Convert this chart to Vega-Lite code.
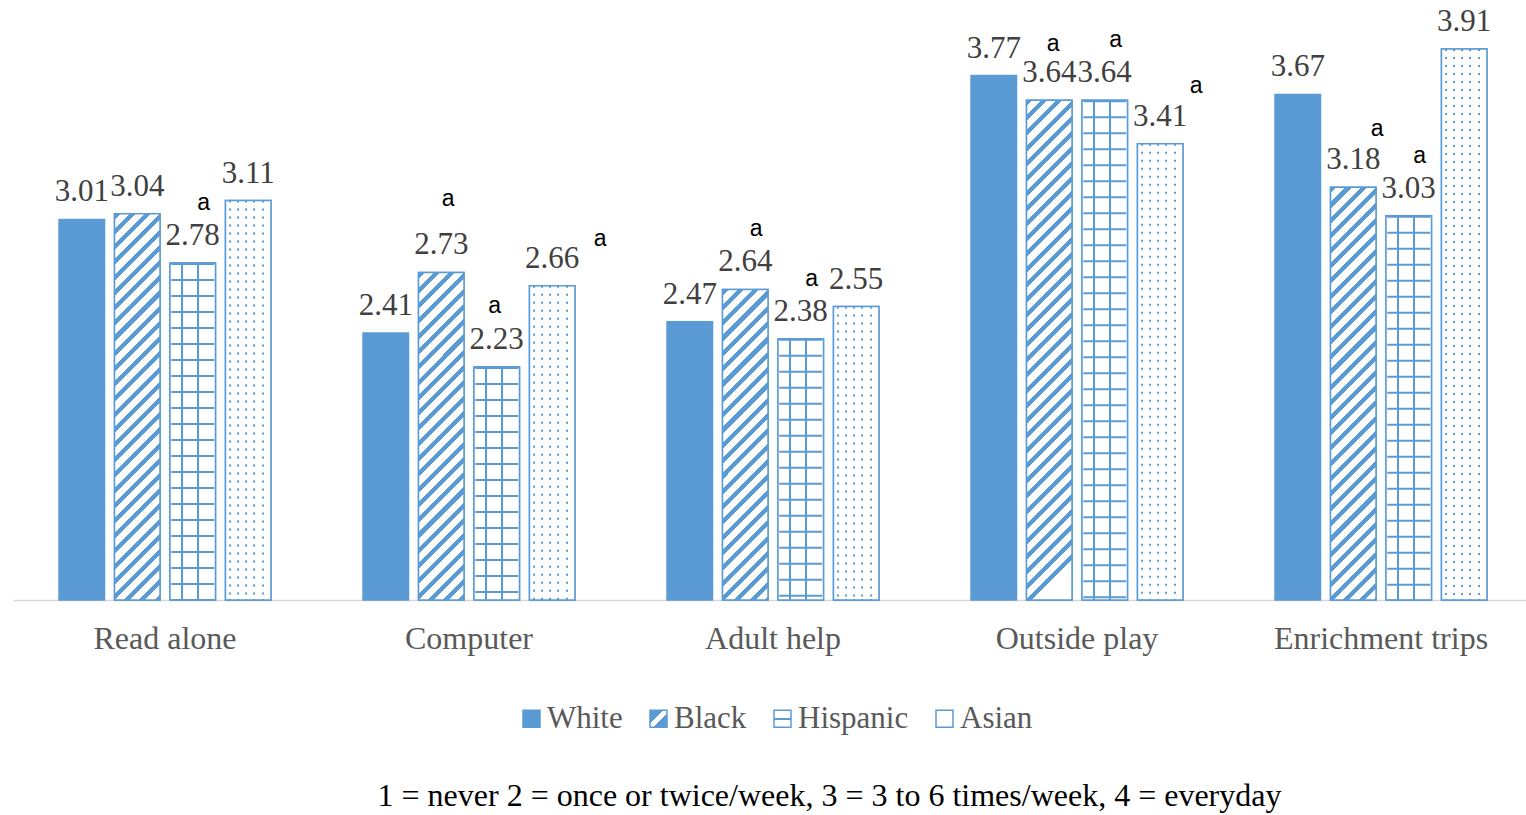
{
  "$schema": "https://vega.github.io/schema/vega-lite/v6.json",
  "autosize": {"type": "none"},
  "width": 1513,
  "height": 568,
  "padding": {"left": 13, "top": 32, "right": 0, "bottom": 215},
  "background": "#ffffff",
  "title": {
    "text": "1 = never 2 = once or twice/week, 3 = 3 to 6 times/week, 4 = everyday",
    "orient": "bottom",
    "anchor": "middle",
    "font": "Liberation Serif",
    "fontSize": 32,
    "fontWeight": "normal",
    "color": "#000000",
    "offset": 47,
    "dx": 60
  },
  "data": {
    "values": [
      {"cat": "Read alone", "grp": "White", "val": 3.01, "sig": ""},
      {"cat": "Read alone", "grp": "Black", "val": 3.04, "sig": ""},
      {"cat": "Read alone", "grp": "Hispanic", "val": 2.78, "sig": "a"},
      {"cat": "Read alone", "grp": "Asian", "val": 3.11, "sig": ""},
      {"cat": "Computer", "grp": "White", "val": 2.41, "sig": ""},
      {"cat": "Computer", "grp": "Black", "val": 2.73, "sig": "a"},
      {"cat": "Computer", "grp": "Hispanic", "val": 2.23, "sig": "a"},
      {"cat": "Computer", "grp": "Asian", "val": 2.66, "sig": "a"},
      {"cat": "Adult help", "grp": "White", "val": 2.47, "sig": ""},
      {"cat": "Adult help", "grp": "Black", "val": 2.64, "sig": "a"},
      {"cat": "Adult help", "grp": "Hispanic", "val": 2.38, "sig": "a"},
      {"cat": "Adult help", "grp": "Asian", "val": 2.55, "sig": ""},
      {"cat": "Outside play", "grp": "White", "val": 3.77, "sig": ""},
      {"cat": "Outside play", "grp": "Black", "val": 3.64, "sig": "a"},
      {"cat": "Outside play", "grp": "Hispanic", "val": 3.64, "sig": "a"},
      {"cat": "Outside play", "grp": "Asian", "val": 3.41, "sig": "a"},
      {"cat": "Enrichment trips", "grp": "White", "val": 3.67, "sig": ""},
      {"cat": "Enrichment trips", "grp": "Black", "val": 3.18, "sig": "a"},
      {"cat": "Enrichment trips", "grp": "Hispanic", "val": 3.03, "sig": "a"},
      {"cat": "Enrichment trips", "grp": "Asian", "val": 3.91, "sig": ""}
    ]
  },
  "encoding": {
    "x": {
      "field": "cat",
      "type": "nominal",
      "sort": ["Read alone", "Computer", "Adult help", "Outside play", "Enrichment trips"],
      "scale": {"range": [0, 1520], "paddingInner": 0.27, "paddingOuter": 0.135},
      "axis": {
        "title": null,
        "ticks": false,
        "labelAngle": 0,
        "labelPadding": 23,
        "labelLimit": 0,
        "labelFont": "Liberation Serif",
        "labelFontSize": 32,
        "labelColor": "#595959",
        "domainColor": "#D9D9D9",
        "domainWidth": 1.5,
        "grid": false
      }
    },
    "xOffset": {
      "field": "grp",
      "type": "nominal",
      "sort": ["White", "Black", "Hispanic", "Asian"],
      "scale": {"paddingInner": 0.18, "paddingOuter": 0.09}
    },
    "y": {
      "field": "val",
      "type": "quantitative",
      "scale": {"domain": [1, 4], "nice": false, "zero": false},
      "axis": null
    }
  },
  "layer": [
    {
      "mark": {"type": "bar", "stroke": "#5B9BD5", "strokeWidth": 1.5},
      "encoding": {
        "y2": {"datum": 1},
        "fill": {
          "field": "grp",
          "type": "nominal",
          "scale": {
            "domain": ["White", "Black", "Hispanic", "Asian"],
            "range": [
              "#5B9BD5",
              {"expr": "{gradient:'linear',x1:0,y1:0,x2:1,y2:1,stops:[{offset:0,color:'#5B9BD5'},{offset:0.4,color:'#5B9BD5'},{offset:0.4,color:'#ffffff'},{offset:0.6,color:'#ffffff'},{offset:0.6,color:'#5B9BD5'},{offset:1,color:'#5B9BD5'}]}"},
              {"expr": "{gradient:'linear',x1:1,y1:0,x2:1,y2:1,stops:[{offset:0,color:'#ffffff'},{offset:0.44,color:'#ffffff'},{offset:0.44,color:'#5B9BD5'},{offset:0.56,color:'#5B9BD5'},{offset:0.56,color:'#ffffff'},{offset:1,color:'#ffffff'}]}"},
              "#ffffff"
            ]
          },
          "legend": {
            "title": null,
            "orient": "none",
            "legendX": 503,
            "legendY": 671,
            "direction": "horizontal",
            "symbolType": "square",
            "symbolSize": 289,
            "symbolStrokeColor": "#5B9BD5",
            "symbolStrokeWidth": 1.5,
            "labelFont": "Liberation Serif",
            "labelFontSize": 31,
            "labelColor": "#595959",
            "labelOffset": 0,
            "columnPadding": 20
          }
        }
      }
    },
    {
      "transform": [{"filter": "datum.grp == 'Black'"}],
      "mark": {
        "type": "bar",
        "stroke": "#5B9BD5",
        "strokeWidth": 1.5,
        "fill": {"expr": "{gradient:'linear',x1:0,y1:0,x2:510*45.5/pow((datum.val-1)*189.33,2),y2:510/((datum.val-1)*189.33),stops:[{offset:0,color:'#5B9BD5'},{offset:0.0118,color:'#5B9BD5'},{offset:0.0118,color:'#fff'},{offset:0.0294,color:'#fff'},{offset:0.0294,color:'#5B9BD5'},{offset:0.0412,color:'#5B9BD5'},{offset:0.0412,color:'#fff'},{offset:0.0588,color:'#fff'},{offset:0.0588,color:'#5B9BD5'},{offset:0.0706,color:'#5B9BD5'},{offset:0.0706,color:'#fff'},{offset:0.0882,color:'#fff'},{offset:0.0882,color:'#5B9BD5'},{offset:0.1,color:'#5B9BD5'},{offset:0.1,color:'#fff'},{offset:0.1176,color:'#fff'},{offset:0.1176,color:'#5B9BD5'},{offset:0.1294,color:'#5B9BD5'},{offset:0.1294,color:'#fff'},{offset:0.1471,color:'#fff'},{offset:0.1471,color:'#5B9BD5'},{offset:0.1588,color:'#5B9BD5'},{offset:0.1588,color:'#fff'},{offset:0.1765,color:'#fff'},{offset:0.1765,color:'#5B9BD5'},{offset:0.1882,color:'#5B9BD5'},{offset:0.1882,color:'#fff'},{offset:0.2059,color:'#fff'},{offset:0.2059,color:'#5B9BD5'},{offset:0.2176,color:'#5B9BD5'},{offset:0.2176,color:'#fff'},{offset:0.2353,color:'#fff'},{offset:0.2353,color:'#5B9BD5'},{offset:0.2471,color:'#5B9BD5'},{offset:0.2471,color:'#fff'},{offset:0.2647,color:'#fff'},{offset:0.2647,color:'#5B9BD5'},{offset:0.2765,color:'#5B9BD5'},{offset:0.2765,color:'#fff'},{offset:0.2941,color:'#fff'},{offset:0.2941,color:'#5B9BD5'},{offset:0.3059,color:'#5B9BD5'},{offset:0.3059,color:'#fff'},{offset:0.3235,color:'#fff'},{offset:0.3235,color:'#5B9BD5'},{offset:0.3353,color:'#5B9BD5'},{offset:0.3353,color:'#fff'},{offset:0.3529,color:'#fff'},{offset:0.3529,color:'#5B9BD5'},{offset:0.3647,color:'#5B9BD5'},{offset:0.3647,color:'#fff'},{offset:0.3824,color:'#fff'},{offset:0.3824,color:'#5B9BD5'},{offset:0.3941,color:'#5B9BD5'},{offset:0.3941,color:'#fff'},{offset:0.4118,color:'#fff'},{offset:0.4118,color:'#5B9BD5'},{offset:0.4235,color:'#5B9BD5'},{offset:0.4235,color:'#fff'},{offset:0.4412,color:'#fff'},{offset:0.4412,color:'#5B9BD5'},{offset:0.4529,color:'#5B9BD5'},{offset:0.4529,color:'#fff'},{offset:0.4706,color:'#fff'},{offset:0.4706,color:'#5B9BD5'},{offset:0.4824,color:'#5B9BD5'},{offset:0.4824,color:'#fff'},{offset:0.5,color:'#fff'},{offset:0.5,color:'#5B9BD5'},{offset:0.5118,color:'#5B9BD5'},{offset:0.5118,color:'#fff'},{offset:0.5294,color:'#fff'},{offset:0.5294,color:'#5B9BD5'},{offset:0.5412,color:'#5B9BD5'},{offset:0.5412,color:'#fff'},{offset:0.5588,color:'#fff'},{offset:0.5588,color:'#5B9BD5'},{offset:0.5706,color:'#5B9BD5'},{offset:0.5706,color:'#fff'},{offset:0.5882,color:'#fff'},{offset:0.5882,color:'#5B9BD5'},{offset:0.6,color:'#5B9BD5'},{offset:0.6,color:'#fff'},{offset:0.6176,color:'#fff'},{offset:0.6176,color:'#5B9BD5'},{offset:0.6294,color:'#5B9BD5'},{offset:0.6294,color:'#fff'},{offset:0.6471,color:'#fff'},{offset:0.6471,color:'#5B9BD5'},{offset:0.6588,color:'#5B9BD5'},{offset:0.6588,color:'#fff'},{offset:0.6765,color:'#fff'},{offset:0.6765,color:'#5B9BD5'},{offset:0.6882,color:'#5B9BD5'},{offset:0.6882,color:'#fff'},{offset:0.7059,color:'#fff'},{offset:0.7059,color:'#5B9BD5'},{offset:0.7176,color:'#5B9BD5'},{offset:0.7176,color:'#fff'},{offset:0.7353,color:'#fff'},{offset:0.7353,color:'#5B9BD5'},{offset:0.7471,color:'#5B9BD5'},{offset:0.7471,color:'#fff'},{offset:0.7647,color:'#fff'},{offset:0.7647,color:'#5B9BD5'},{offset:0.7765,color:'#5B9BD5'},{offset:0.7765,color:'#fff'},{offset:0.7941,color:'#fff'},{offset:0.7941,color:'#5B9BD5'},{offset:0.8059,color:'#5B9BD5'},{offset:0.8059,color:'#fff'},{offset:0.8235,color:'#fff'},{offset:0.8235,color:'#5B9BD5'},{offset:0.8353,color:'#5B9BD5'},{offset:0.8353,color:'#fff'},{offset:0.8529,color:'#fff'},{offset:0.8529,color:'#5B9BD5'},{offset:0.8647,color:'#5B9BD5'},{offset:0.8647,color:'#fff'},{offset:0.8824,color:'#fff'},{offset:0.8824,color:'#5B9BD5'},{offset:0.8941,color:'#5B9BD5'},{offset:0.8941,color:'#fff'},{offset:0.9118,color:'#fff'},{offset:0.9118,color:'#5B9BD5'},{offset:0.9235,color:'#5B9BD5'},{offset:0.9235,color:'#fff'},{offset:0.9412,color:'#fff'},{offset:0.9412,color:'#5B9BD5'},{offset:0.9529,color:'#5B9BD5'},{offset:0.9529,color:'#fff'},{offset:0.9706,color:'#fff'},{offset:0.9706,color:'#5B9BD5'},{offset:0.9824,color:'#5B9BD5'},{offset:0.9824,color:'#fff'},{offset:1,color:'#fff'}]}"}
      },
      "encoding": {"y2": {"datum": 1}}
    },
    {
      "transform": [{"filter": "datum.grp == 'Hispanic'"}],
      "mark": {
        "type": "bar",
        "stroke": "#5B9BD5",
        "strokeWidth": 1.5,
        "fill": {
          "gradient": "linear",
          "x1": 0, "y1": 0, "x2": 1, "y2": 0,
          "stops": [
            {"offset": 0, "color": "#ffffff"},
            {"offset": 0.235, "color": "#ffffff"},
            {"offset": 0.235, "color": "#5B9BD5"},
            {"offset": 0.279, "color": "#5B9BD5"},
            {"offset": 0.279, "color": "#ffffff"},
            {"offset": 0.6, "color": "#ffffff"},
            {"offset": 0.6, "color": "#5B9BD5"},
            {"offset": 0.644, "color": "#5B9BD5"},
            {"offset": 0.644, "color": "#ffffff"},
            {"offset": 1, "color": "#ffffff"}
          ]
        }
      },
      "encoding": {"y2": {"datum": 1}}
    },
    {
      "transform": [{"filter": "datum.grp == 'Hispanic'"}],
      "mark": {"type": "rule", "color": "#5B9BD5", "strokeWidth": 43, "strokeDash": [2, 14]},
      "encoding": {"y2": {"datum": 1}}
    },
    {
      "transform": [{"filter": "datum.grp == 'Asian'"}],
      "mark": {"type": "rule", "color": "#5B9BD5", "strokeWidth": 43, "strokeDash": [2, 6]},
      "encoding": {"y2": {"datum": 1}}
    },
    {
      "transform": [{"filter": "datum.grp == 'Asian'"}],
      "mark": {
        "type": "bar",
        "stroke": "#5B9BD5",
        "strokeWidth": 1.5,
        "fill": {
          "gradient": "linear",
          "x1": 0, "y1": 0, "x2": 1, "y2": 0,
          "stops": [
            {"offset": 0, "color": "#ffffff"},
            {"offset": 0.073, "color": "#ffffff"},
            {"offset": 0.073, "color": "rgba(255,255,255,0)"},
            {"offset": 0.117, "color": "rgba(255,255,255,0)"},
            {"offset": 0.117, "color": "#ffffff"},
            {"offset": 0.253, "color": "#ffffff"},
            {"offset": 0.253, "color": "rgba(255,255,255,0)"},
            {"offset": 0.297, "color": "rgba(255,255,255,0)"},
            {"offset": 0.297, "color": "#ffffff"},
            {"offset": 0.433, "color": "#ffffff"},
            {"offset": 0.433, "color": "rgba(255,255,255,0)"},
            {"offset": 0.477, "color": "rgba(255,255,255,0)"},
            {"offset": 0.477, "color": "#ffffff"},
            {"offset": 0.613, "color": "#ffffff"},
            {"offset": 0.613, "color": "rgba(255,255,255,0)"},
            {"offset": 0.657, "color": "rgba(255,255,255,0)"},
            {"offset": 0.657, "color": "#ffffff"},
            {"offset": 0.793, "color": "#ffffff"},
            {"offset": 0.793, "color": "rgba(255,255,255,0)"},
            {"offset": 0.837, "color": "rgba(255,255,255,0)"},
            {"offset": 0.837, "color": "#ffffff"},
            {"offset": 1, "color": "#ffffff"}
          ]
        }
      },
      "encoding": {"y2": {"datum": 1}}
    },
    {
      "mark": {"type": "text", "baseline": "alphabetic", "align": "center", "dy": -18, "font": "Liberation Serif", "fontSize": 31, "color": "#404040"},
      "encoding": {"text": {"field": "val", "type": "quantitative", "format": ".2f"}}
    },
    {
      "transform": [{"filter": "datum.sig == 'a' && indexof(['Read alone|Hispanic','Adult help|Black','Adult help|Hispanic','Outside play|Hispanic','Enrichment trips|Hispanic'], datum.cat + '|' + datum.grp) >= 0"}],
      "mark": {"type": "text", "baseline": "alphabetic", "align": "center", "dx": 11, "dy": -53, "font": "Liberation Sans", "fontSize": 23, "color": "#000000"},
      "encoding": {"text": {"field": "sig", "type": "nominal"}}
    },
    {
      "transform": [{"filter": "datum.sig == 'a' && datum.cat == 'Computer' && datum.grp == 'Hispanic'"}],
      "mark": {"type": "text", "baseline": "alphabetic", "align": "center", "dx": -2, "dy": -54, "font": "Liberation Sans", "fontSize": 23, "color": "#000000"},
      "encoding": {"text": {"field": "sig", "type": "nominal"}}
    },
    {
      "transform": [{"filter": "datum.sig == 'a' && datum.cat == 'Outside play' && datum.grp == 'Black'"}],
      "mark": {"type": "text", "baseline": "alphabetic", "align": "center", "dx": 4, "dy": -49, "font": "Liberation Sans", "fontSize": 23, "color": "#000000"},
      "encoding": {"text": {"field": "sig", "type": "nominal"}}
    },
    {
      "transform": [{"filter": "datum.sig == 'a' && datum.cat == 'Enrichment trips' && datum.grp == 'Black'"}],
      "mark": {"type": "text", "baseline": "alphabetic", "align": "center", "dx": 24, "dy": -51, "font": "Liberation Sans", "fontSize": 23, "color": "#000000"},
      "encoding": {"text": {"field": "sig", "type": "nominal"}}
    },
    {
      "transform": [{"filter": "datum.sig == 'a' && datum.cat == 'Computer' && datum.grp == 'Black'"}],
      "mark": {"type": "text", "baseline": "alphabetic", "align": "center", "dx": 7, "dy": -66, "font": "Liberation Sans", "fontSize": 23, "color": "#000000"},
      "encoding": {"text": {"field": "sig", "type": "nominal"}}
    },
    {
      "transform": [{"filter": "datum.sig == 'a' && datum.cat == 'Computer' && datum.grp == 'Asian'"}],
      "mark": {"type": "text", "baseline": "alphabetic", "align": "center", "dx": 48, "dy": -40, "font": "Liberation Sans", "fontSize": 23, "color": "#000000"},
      "encoding": {"text": {"field": "sig", "type": "nominal"}}
    },
    {
      "transform": [{"filter": "datum.sig == 'a' && datum.cat == 'Outside play' && datum.grp == 'Asian'"}],
      "mark": {"type": "text", "baseline": "alphabetic", "align": "center", "dx": 36, "dy": -51, "font": "Liberation Sans", "fontSize": 23, "color": "#000000"},
      "encoding": {"text": {"field": "sig", "type": "nominal"}}
    }
  ],
  "config": {
    "view": {"stroke": null},
    "axis": {"grid": false}
  }
}
